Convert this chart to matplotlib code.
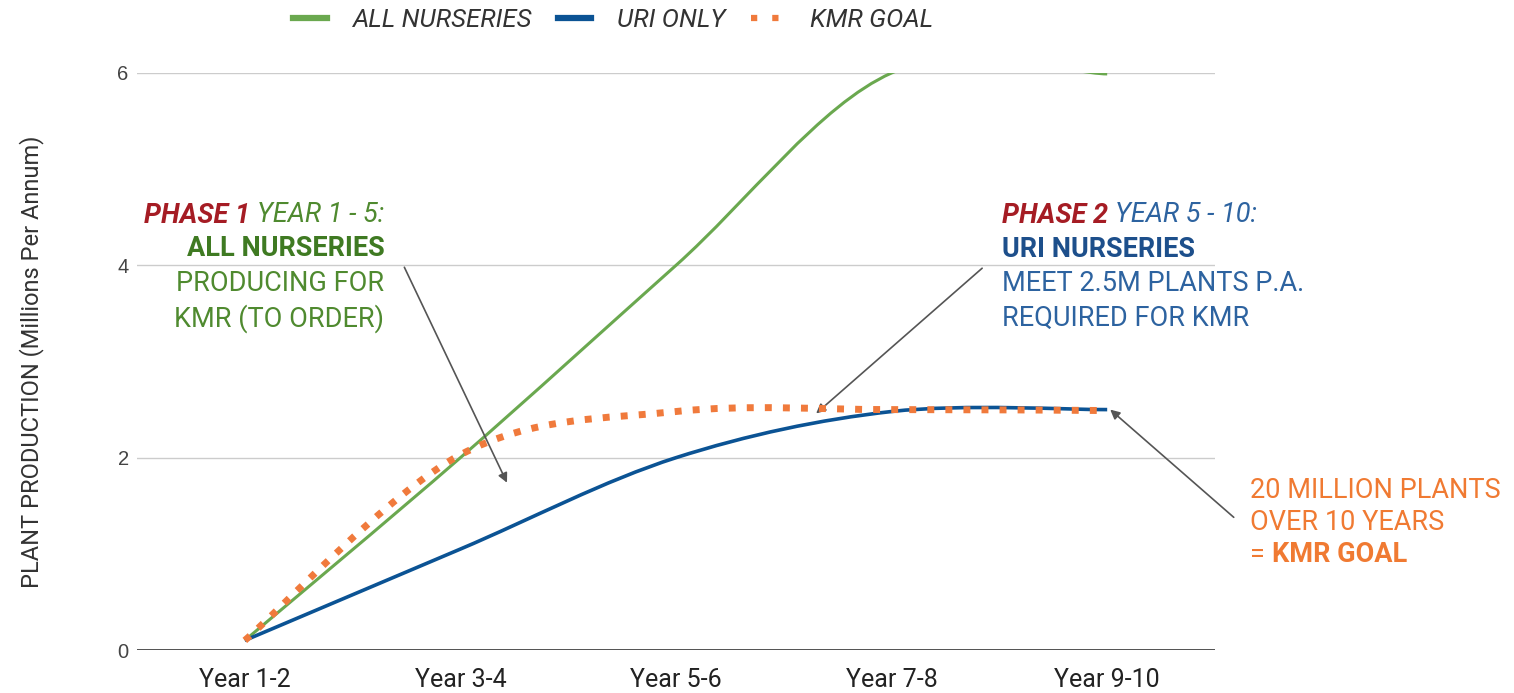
import matplotlib
matplotlib.use("Agg")
import matplotlib.pyplot as plt
from matplotlib.path import Path
from matplotlib.patches import PathPatch
from matplotlib.lines import Line2D

plt.rcParams["font.family"] = ["Roboto", "DejaVu Sans"]

# ── data ───────────────────────────────────────────────────────────────────
periods        = ["Year 1-2", "Year 3-4", "Year 5-6", "Year 7-8", "Year 9-10"]
all_nurseries  = [0.1, 2.0, 4.0, 6.0, 5.99]
uri_only       = [0.1, 1.05, 2.0, 2.48, 2.5]
kmr_goal       = [0.1, 2.03, 2.48, 2.5, 2.49]
y_ticks        = [0, 2, 4, 6]

GREEN  = "#6aa84f"
BLUE   = "#0b5394"
ORANGE = "#f07a3c"
RED    = "#a51c24"
TXT_G  = "#4f8a2f"
TXT_GB = "#3f7a22"
TXT_B  = "#2d63a0"
TXT_BB = "#1d4f8b"
TXT_O  = "#f07a32"


def smooth_path(xs, ys):
    """Catmull-Rom style cubic bezier through the data points."""
    pts = list(zip(xs, ys))
    n = len(pts)
    verts, codes = [pts[0]], [Path.MOVETO]
    for i in range(n - 1):
        p0 = pts[i - 1] if i > 0 else pts[i]
        p1, p2 = pts[i], pts[i + 1]
        p3 = pts[i + 2] if i + 2 < n else pts[i + 1]
        c1 = (p1[0] + (p2[0] - p0[0]) / 6, p1[1] + (p2[1] - p0[1]) / 6)
        c2 = (p2[0] - (p3[0] - p1[0]) / 6, p2[1] - (p3[1] - p1[1]) / 6)
        verts += [c1, c2, p2]
        codes += [Path.CURVE4] * 3
    return Path(verts, codes)


fig = plt.figure(figsize=(15.14, 6.93), dpi=100)
ax = fig.add_axes([0.0905, 0.062, 0.712, 0.8327])

x = list(range(len(periods)))
ax.set_xlim(-0.5, len(periods) - 0.5)
ax.set_ylim(0, 6)

series = [
    (all_nurseries, GREEN, 2.2, "-"),
    (uri_only, BLUE, 2.6, "-"),
    (kmr_goal, ORANGE, 5.0, (0, (1, 1.6))),
]
for vals, col, lw, ls in series:
    p = PathPatch(smooth_path(x, vals), fill=False, edgecolor=col,
                  lw=lw, linestyle=ls, zorder=3 if col != ORANGE else 4)
    p.set_capstyle("butt")
    ax.add_patch(p)

# ── axes styling ───────────────────────────────────────────────────────────
for s in ax.spines.values():
    s.set_visible(False)
ax.set_yticks(y_ticks)
ax.set_yticklabels([str(v) for v in y_ticks], fontsize=14.5, color="#444444",
                   family=["Liberation Sans", "DejaVu Sans"])
ax.set_xticks(x)
ax.set_xticklabels(periods, fontsize=18, color="#222222")
ax.tick_params(axis="x", length=0, pad=13)
ax.tick_params(axis="y", length=0, pad=6)
for v in y_ticks[1:]:
    ax.axhline(v, color="#cccccc", lw=1, zorder=1)
ax.axhline(0, color="#444444", lw=1.3, zorder=2)
ax.set_ylabel("PLANT PRODUCTION (Millions Per Annum)", fontsize=17,
              color="#333333", labelpad=53)

# ── legend ─────────────────────────────────────────────────────────────────
handles = [
    Line2D([], [], color=GREEN, lw=4.5),
    Line2D([], [], color=BLUE, lw=4.5),
    Line2D([], [], color=ORANGE, lw=4.5, linestyle=(0, (1, 2.4)),
           dash_capstyle="butt"),
]
fig.legend(handles, ["ALL NURSERIES", "URI ONLY", "KMR GOAL"],
           loc="center", bbox_to_anchor=(0.405, 0.971), ncol=3,
           frameon=False, handlelength=1.3, handletextpad=1.0,
           columnspacing=1.0, prop={"size": 18.5, "style": "italic"},
           labelcolor="#333333")

# ── annotations ────────────────────────────────────────────────────────────
FS = 19.5

# phase 1 block (right aligned)
t = ax.text(0.647, 4.52, "YEAR 1 - 5:", ha="right", va="center", fontsize=FS,
            style="italic", color=TXT_G)
ax.annotate("PHASE 1", xy=(0, 0.5), xycoords=t, xytext=(-5, 0),
            textcoords="offset points", ha="right", va="center", fontsize=FS,
            style="italic", weight="bold", color=RED)
ax.text(0.647, 4.17, "ALL NURSERIES", ha="right", va="center", fontsize=FS,
        weight="bold", color=TXT_GB)
ax.text(0.647, 3.81, "PRODUCING FOR", ha="right", va="center", fontsize=FS,
        color=TXT_G)
ax.text(0.647, 3.45, "KMR (TO ORDER)", ha="right", va="center", fontsize=FS,
        color=TXT_G)

# phase 2 block (left aligned)
t = ax.text(3.514, 4.52, "PHASE 2", ha="left", va="center", fontsize=FS,
            style="italic", weight="bold", color=RED, clip_on=False)
ax.annotate("YEAR 5 - 10:", xy=(1, 0.5), xycoords=t, xytext=(5, 0),
            textcoords="offset points", ha="left", va="center", fontsize=FS,
            style="italic", color=TXT_B)
ax.text(3.514, 4.16, "URI NURSERIES", ha="left", va="center", fontsize=FS,
        weight="bold", color=TXT_BB)
ax.text(3.514, 3.81, "MEET 2.5M PLANTS P.A.", ha="left", va="center",
        fontsize=FS, color=TXT_B, clip_on=False)
ax.text(3.514, 3.45, "REQUIRED FOR KMR", ha="left", va="center", fontsize=FS,
        color=TXT_B, clip_on=False)

# goal block
ax.text(4.661, 1.66, "20 MILLION PLANTS", ha="left", va="center", fontsize=FS,
        color=TXT_O, clip_on=False)
ax.text(4.661, 1.33, "OVER 10 YEARS", ha="left", va="center", fontsize=FS,
        color=TXT_O, clip_on=False)
t = ax.text(4.661, 0.99, "=", ha="left", va="center", fontsize=FS,
            color=TXT_O, clip_on=False)
ax.annotate("KMR GOAL", xy=(1, 0.5), xycoords=t, xytext=(5, 0),
            textcoords="offset points", ha="left", va="center", fontsize=FS,
            weight="bold", color=TXT_O, annotation_clip=False)

# arrows
arrow = dict(arrowstyle="-|>", color="#555555", lw=1.2,
             mutation_scale=14, shrinkA=0, shrinkB=0)
ax.annotate("", xy=(1.216, 1.74), xytext=(0.74, 3.98), arrowprops=arrow,
            annotation_clip=False)
ax.annotate("", xy=(2.65, 2.46), xytext=(3.42, 3.97), arrowprops=arrow,
            annotation_clip=False)
ax.annotate("", xy=(4.014, 2.50), xytext=(4.587, 1.38), arrowprops=arrow,
            annotation_clip=False)

fig.savefig("out.png", dpi=100)
